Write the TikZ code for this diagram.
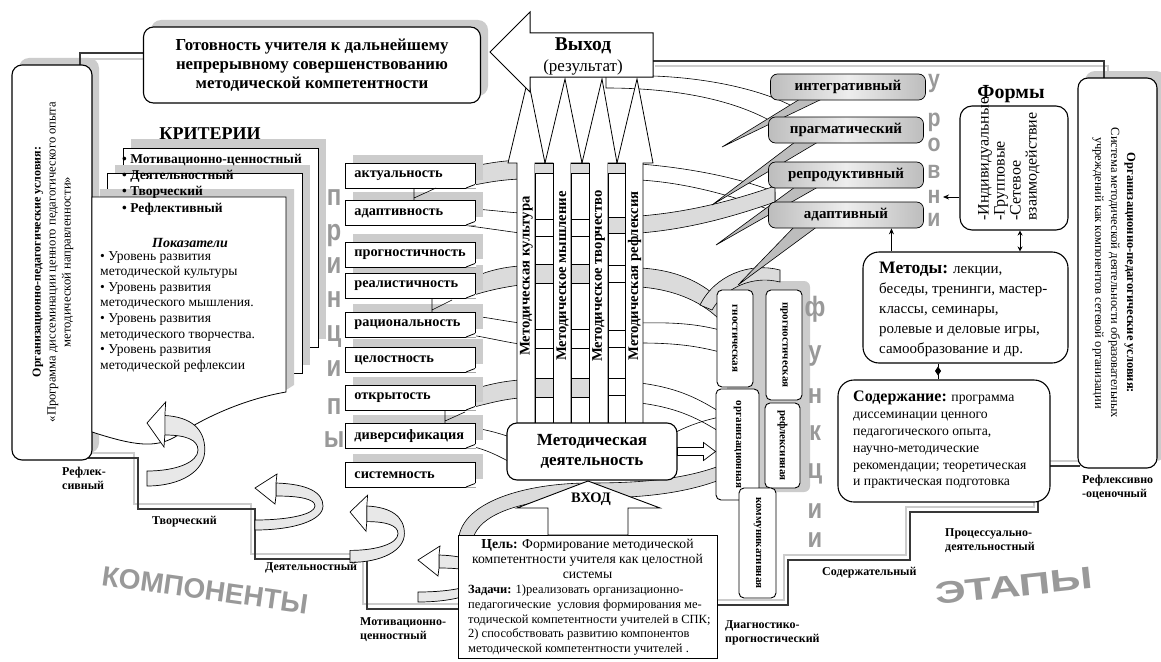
\documentclass[tikz,border=0pt]{standalone}
\usepackage{fontspec}
\setmainfont{Liberation Serif}
\newfontfamily\artf{Liberation Sans}
\usetikzlibrary{arrows.meta,calc}
\newcommand\fz[2]{\fontsize{#1}{#2}\selectfont}
\definecolor{shd}{gray}{0.80}
\definecolor{bandc}{gray}{0.86}
\definecolor{lvlc}{gray}{0.74}
\definecolor{lvll}{gray}{0.93}
\definecolor{artc}{gray}{0.60}
\definecolor{frm}{gray}{0.22}
\tikzset{
  rbox/.style={draw=black, line width=1.1pt, rounded corners=10pt, fill=white},
  prin/.style={draw, line width=0.8pt, fill=white, minimum height=25pt, text width=112pt, inner xsep=9pt, inner ysep=0pt, align=left, anchor=north west, font=\bfseries\fz{14.3}{15}},
  lvl/.style={draw, line width=0.7pt, left color=lvlc, right color=lvlc, middle color=lvll, rounded corners=7pt, minimum width=155pt, minimum height=26pt, inner sep=0pt, font=\bfseries\fz{15}{16}},
  func/.style={draw, line width=0.9pt, fill=white, rounded corners=5pt, inner sep=0pt, rotate=-90, font=\bfseries\fz{11}{12}},
  art/.style={text=artc, inner sep=0pt, anchor=base},
  artp/.style={art, font=\artf\bfseries\fz{30}{30}},
  artu/.style={art, font=\artf\bfseries\fz{25}{25}},
  artf/.style={art, font=\artf\bfseries\fz{28}{28}},
  stage/.style={font=\bfseries\fz{12}{14}, align=left, inner sep=0pt},
  frameline/.style={draw=frm, line width=1.6pt},
  frameshd/.style={draw=shd, line width=2.2pt},
  bandg/.style={draw, line width=0.6pt, fill=bandc},
  bandw/.style={draw, line width=0.6pt, fill=white},
  thinline/.style={draw, line width=0.6pt},
  colarrow/.style={draw, line width=0.8pt, fill=white},
  coltext/.style={rotate=90, inner sep=0pt, font=\bfseries\fz{14.7}{15}},
  spike/.style={draw, line width=0.6pt, fill=lvlc},
  uturn/.pic={
    \draw[line width=0.7pt, fill=gray!18] (21,-5) .. controls (52,-4) and (68,4) .. (68,18) .. controls (68,32) and (40,42) .. (0,42) -- (0,32) .. controls (35,32) and (60,26) .. (60,18) .. controls (60,11) and (45,8) .. (21,8) -- cycle;
    \draw[line width=0.7pt, fill=white] (0,0) -- (22,-14) -- (21,-5) -- (21,8) -- (20,16) -- cycle;
  }
}
\begin{document}
\begin{tikzpicture}[x=1pt,y=-1pt]
\useasboundingbox (0,0) rectangle (1161,661);
\fill[white] (0,0) rectangle (1161,661);

% ---------- shadows
\fill[shd, rounded corners=10pt] (151,20) rectangle (488,96);
\fill[shd, rounded corners=10pt] (19,58) rectangle (99,453);
\fill[shd, rounded corners=10pt] (1085,71) rectangle (1166,461);
\fill[shd, rounded corners=6pt] (727,281) rectangle (810,492);

% ---------- frame lines
\draw[frameshd] (86,66) -- (86,59) -- (143,59);
\draw[frameline] (80,66) -- (80,53) -- (143,53);
\draw[frameshd] (655,66) -- (1108,66) -- (1108,78);
\draw[frameline] (653,61) -- (1104,61) -- (1104,78);
\draw[frameshd] (88,453) -- (134,453) -- (134,504) -- (251,504) -- (251,554) -- (363,554) -- (363,604) -- (458,604);
\draw[frameline] (88,458) -- (138,458) -- (138,509) -- (255,509) -- (255,559) -- (367,559) -- (367,609) -- (458,609);
\draw[frameshd] (717,600) -- (784,600) -- (784,555) -- (906,555) -- (906,507) -- (1034,507) -- (1034,461) -- (1080,461);
\draw[frameline] (717,605) -- (788,605) -- (788,560) -- (910,560) -- (910,512) -- (1038,512) -- (1038,466) -- (1080,466);

% ---------- ribbons and bands
\draw[bandg] (459,548) .. controls (452,505) and (520,483) .. (590,483) .. controls (650,483) and (700,478) .. (742,456) -- (742,470) .. controls (700,492) and (650,498) .. (590,498) .. controls (530,498) and (470,512) .. (472,548) -- cycle;
\draw[thinline] (653,76) .. controls (710,78) and (760,90) .. (790,105);
\draw[thinline] (606,77) -- (606,88) .. controls (690,88) and (750,105) .. (785,130);
\draw[bandg] (474,166) .. controls (490,163) and (500,161) .. (520,160) -- (520,179) .. controls (500,180) and (490,182) .. (474,185) -- cycle;
\draw[thinline] (474,209) .. controls (490,210) and (505,212) .. (520,213);
\draw[thinline] (462,225) .. controls (485,228) and (505,231) .. (520,233);
\draw[bandg] (474,277) .. controls (490,270) and (505,267) .. (520,266) -- (520,285) .. controls (505,287) and (490,290) .. (474,295) -- cycle;
\draw[thinline] (474,316) .. controls (490,318) and (505,321) .. (520,323);
\draw[thinline] (465,334) .. controls (490,338) and (505,342) .. (520,344);
\draw[bandg] (474,389) .. controls (490,384) and (505,381) .. (520,380) -- (520,398) .. controls (505,399) and (490,403) .. (474,407) -- cycle;
\draw[thinline] (474,428) .. controls (488,430) and (498,433) .. (510,437);
\draw[thinline] (470,446) .. controls (488,450) and (498,456) .. (510,462);
\draw[bandw] (640,164) .. controls (690,168) and (740,178) .. (775,192) -- (775,212) .. controls (740,198) and (690,183) .. (640,180) -- cycle;
\draw[bandg] (640,216) .. controls (690,212) and (735,200) .. (775,186) -- (775,202) .. controls (735,216) and (690,229) .. (640,233) -- cycle;
\draw[bandg] (640,268) .. controls (680,270) and (705,285) .. (720,300) -- (720,320) .. controls (705,305) and (680,290) .. (640,287) -- cycle;
\draw[thinline] (640,323) .. controls (680,322) and (700,325) .. (720,330);
\draw[thinline] (640,343) .. controls (680,343) and (700,347) .. (720,352);
\draw[thinline] (640,383) .. controls (680,388) and (700,400) .. (720,412);
\draw[thinline] (640,403) .. controls (680,408) and (700,420) .. (720,432);
\draw[thinline] (676,432) .. controls (690,425) and (705,420) .. (720,417);
\draw[bandg] (700,305) .. controls (715,275) and (750,262) .. (780,270) -- (780,282) .. controls (752,275) and (725,288) .. (712,310) -- cycle;

% ---------- columns
\draw[colarrow] (517,424) -- (517,163) -- (508,163) -- (528,79) -- (545,163) -- (535,163) -- (535,424) -- cycle;
\draw[colarrow] (553,424) -- (553,163) -- (545,163) -- (565,79) -- (582,163) -- (571,163) -- (571,424) -- cycle;
\draw[colarrow] (589,424) -- (589,163) -- (582,163) -- (602,79) -- (617,163) -- (608,163) -- (608,424) -- cycle;
\draw[colarrow] (625,424) -- (625,163) -- (617,163) -- (637,79) -- (653,163) -- (643,163) -- (643,424) -- cycle;
\foreach \xa/\xb in {535/553, 571/589, 608/625} {
  \draw[line width=0.8pt, fill=white] (\xa,163) rectangle (\xb,424);
  \fill[bandc] (\xa,163.5) rectangle (\xb,173);
  \draw[line width=0.6pt] (\xa,173) -- (\xb,173);
}
\foreach \xa/\xb in {535/553, 571/589} {
  \draw[line width=0.6pt] (\xa,219) -- (\xb,219) (\xa,236) -- (\xb,236) (\xa,329) -- (\xb,329) (\xa,348) -- (\xb,348);
  \draw[line width=0.6pt, fill=bandc] (\xa,264) rectangle (\xb,283);
  \draw[line width=0.6pt, fill=bandc] (\xa,378) rectangle (\xb,397);
}
\draw[line width=0.6pt, fill=bandc] (608,217) rectangle (625,233);
\draw[line width=0.6pt] (608,265) -- (625,265) (608,282) -- (625,282) (608,330) -- (625,330) (608,347) -- (625,347) (608,378) -- (625,378) (608,395) -- (625,395);
\node[coltext] (c1) at (526.5,276) {Методическая культура};
\node[coltext] (c2) at (562.5,276) {Методическое мышление};
\node[coltext] (c3) at (598.5,276) {Методическое творчество};
\node[coltext] (c4) at (634.5,276) {Методическая рефлексия};

% ---------- output arrow
\draw[line width=1pt, fill=white] (490,52) -- (530,12) -- (530,33) -- (653,33) -- (653,77) -- (530,77) -- (530,92) -- cycle;
\node[font=\bfseries\fz{19.5}{22}, inner sep=0pt] (vyh) at (583,46) {Выход};
\node[font=\fz{17}{19}, inner sep=0pt] (vyhr) at (583,67) {(результат)};

% ---------- top-left result box
\node[rbox, minimum width=337pt, minimum height=76pt, align=center, font=\bfseries\fz{16.8}{19}] (got) at (312,65) {Готовность учителя к дальнейшему\\непрерывному совершенствованию\\методической компетентности};

% ---------- left and right condition boxes
\node[rbox, minimum width=80pt, minimum height=395pt] (lbox) at (52,262.5) {};
\node[rotate=90, align=center, font=\fz{12.6}{15}] (lboxt) at (53,262) {{\bfseries\fz{12}{15}Организационно-педагогические условия:}\\«Программа диссеминации ценного педагогического опыта\\методической направленности»};
\node[rbox, minimum width=79pt, minimum height=390pt] (rbx) at (1117.5,273) {};
\node[rotate=-90, align=center, font=\fz{12.5}{16}] (rbxt) at (1114,273) {\textbf{Организационно-педагогические условия:}\\Система методической деятельности образовательных\\учреждений как компонентов сетевой организации};

% ---------- criteria pages
\node[font=\bfseries\fz{18}{20}, inner sep=0pt] (krit) at (210,134) {КРИТЕРИИ};
\fill[shd] (131,139) rectangle (326,339);
\draw[line width=0.8pt, fill=white] (123,148) rectangle (318,347);
\fill[shd] (115,165) rectangle (310,365);
\draw[line width=0.8pt, fill=white] (107,173) rectangle (302,373);
\fill[shd] (100,189) -- (294,189) -- (294,385) -- (286,390) -- (92,390) -- cycle;
\draw[line width=0.8pt, fill=white] (92,197) -- (286,197) -- (286,392) .. controls (240,400) and (200,420) .. (175,437) .. controls (155,448) and (135,446) .. (92,432) -- cycle;
\node[anchor=north west, align=left, inner sep=0pt, font=\bfseries\fz{13.5}{16.2}] (kritl) at (122,154) {• Мотивационно-ценностный\\• Деятельностный\\• Творческий\\• Рефлективный};
\node[font=\bfseries\itshape\fz{14}{15}, inner sep=0pt] (pokaz) at (190,243) {Показатели};
\node[anchor=north west, align=left, inner sep=0pt, font=\fz{13.6}{15.6}] (pokl) at (100,251) {• Уровень развития\\методической культуры\\• Уровень развития\\методического мышления.\\• Уровень развития\\методического творчества.\\• Уровень развития\\методической рефлексии};

% ---------- principles
\foreach \yy in {163,200,242,273,312,347,385,423,462} { \fill[shd] (353,\yy-8) rectangle (483,\yy+17); }
\node[prin] (p1) at (345,163) {актуальность};
\node[prin] (p2) at (345,200) {адаптивность};
\node[prin] (p3) at (345,242) {прогностичность};
\node[prin] (p4) at (345,273) {реалистичность};
\node[prin] (p5) at (345,312) {рациональность};
\node[prin] (p6) at (345,347) {целостность};
\node[prin] (p7) at (345,385) {открытость};
\node[prin] (p8) at (345,423) {диверсификация};
\node[prin] (p9) at (345,462) {системность};
\foreach \yy in {163,200,242,273,312,347,385,423,462} {
  \fill[white] (466,\yy+25.6) -- (476,\yy+25.6) -- (476,\yy+21) -- cycle;
  \draw[line width=0.8pt] (466,\yy+25) -- (475,\yy+21.5);
}
\draw[thinline] (414,188) -- (414,200) (414,198) -- (436,188);
\draw[thinline] (432,298) -- (432,312) (432,310) -- (452,300);
\draw[thinline] (445,410) -- (445,423) (445,421) -- (465,412);

% ---------- levels
\draw[spike] (800,99) -- (722,147) -- (822,99) -- cycle;
\draw[spike] (795,142) -- (712,205) -- (818,142) -- cycle;
\draw[spike] (795,187) -- (716,245) -- (818,187) -- cycle;
\draw[spike] (795,226) -- (738,285) -- (818,226) -- cycle;
\node[lvl] (l1) at (848,87) {интегративный};
\node[lvl] (l2) at (846,130) {прагматический};
\node[lvl] (l3) at (846,175) {репродуктивный};
\node[lvl] (l4) at (846,215) {адаптивный};

% ---------- functions
\node[func, minimum width=97pt, minimum height=36pt] (gn) at (735,338.5) {гностическая};
\node[func, minimum width=110pt, minimum height=36pt] (pg) at (784,345) {прогностическая};
\node[func, minimum width=111pt, minimum height=43pt] (og) at (737.5,444.5) {организационная};
\node[func, minimum width=85pt, minimum height=35pt] (rf) at (782.5,445.5) {рефлексивная};
\node[func, minimum width=110pt, minimum height=37pt] (km) at (757.5,543) {коммуникативная};

% ---------- method activity, input
\pic at (418,560) {uturn};
\node[draw, line width=1pt, fill=white, minimum width=259pt, minimum height=123pt, anchor=north west] (cel) at (458,535) {};
\node[anchor=north, align=center, inner sep=0pt, font=\fz{13.7}{14.8}] (celt) at (587.5,539) {\textbf{Цель:} Формирование методической\\компетентности учителя как целостной\\системы};
\node[anchor=north west, align=left, inner sep=0pt, font=\fz{12.5}{14.6}] (celz) at (468,585) {\textbf{Задачи:} 1)реализовать организационно-\\педагогические \ условия формирования ме-\\тодической компетентности учителей в СПК;\\2) способствовать развитию компонентов\\методической компетентности учителей .};
\node[rbox, minimum width=170pt, minimum height=57pt, align=center, font=\bfseries\fz{17}{20}] (md) at (592,451.5) {Методическая\\деятельность};
\draw[line width=0.9pt, fill=white] (588,481) -- (660,508) -- (628,508) -- (628,535) -- (548,535) -- (548,508) -- (517,508) -- cycle;
\node[font=\bfseries\fz{14.5}{15}, inner sep=0pt] (vhod) at (591,499) {ВХОД};
\path (md.east) coordinate (ma) (og.south |- md.east) coordinate (mb);
\draw[line width=0.7pt, fill=white] ($(ma)+(0,-4)$) -- ($(mb)+(-12,-4)$) -- ($(mb)+(-12,-9)$) -- (mb) -- ($(mb)+(-12,9)$) -- ($(mb)+(-12,4)$) -- ($(ma)+(0,4)$) -- cycle;

% ---------- U-turn arrows
\path (147,423) pic[xscale=0.85, yscale=1.5] {uturn};
\path (255,488) pic {uturn};
\path (350,512) pic[xscale=0.8, yscale=1.2] {uturn};

% ---------- forms, methods, content
\node[font=\bfseries\fz{20}{22}, inner sep=0pt] (formst) at (1011,94) {Формы};
\node[rbox, rounded corners=12pt, minimum width=108pt, minimum height=124pt] (forms) at (1014,168) {};
\node[rotate=90, anchor=west, align=left, inner sep=0pt, font=\fz{16}{16}] (formsx) at (1009,221) {-Индивидуальные\\-Групповые\\-Сетевое\\взаимодействие};
\node[rbox, rounded corners=16pt, minimum width=205pt, minimum height=111pt] (meth) at (965.5,307.5) {};
\node[anchor=north west, align=left, inner sep=0pt, font=\fz{15}{20}] (metht) at (879,262) {{\bfseries\fz{17.5}{20}Методы:} лекции,\\беседы, тренинги, мастер-\\классы, семинары,\\ролевые и деловые игры,\\самообразование и др.};
\node[rbox, rounded corners=16pt, minimum width=212pt, minimum height=122pt] (cont) at (944,441) {};
\node[anchor=north west, align=left, inner sep=0pt, font=\fz{13.7}{16.8}] (contt) at (853,391) {{\bfseries\fz{16}{17}Содержание:} программа\\диссеминации ценного\\педагогического опыта,\\научно-методические\\рекомендации; теоретическая\\и практическая подготовка};

% connectors
\draw[line width=0.8pt, -{Stealth[length=6pt,width=5pt]}] ([xshift=29pt]meth.north west) -- ([xshift=29pt]meth.north west |- l4.south);
\draw[line width=0.8pt, {Stealth[length=5pt,width=5pt]}-{Stealth[length=5pt,width=5pt]}] ([xshift=6pt]forms.south) -- ([xshift=6pt]forms.south |- meth.north);
\path ([xshift=-27.5pt]meth.south) coordinate (da) ([xshift=-27.5pt]meth.south |- cont.north) coordinate (db);
\draw[line width=0.8pt, -{Diamond[length=9pt,width=6pt]}] (da) -- ($(da)!0.75!(db)$);
\draw[line width=0.8pt] ($(da)!0.6!(db)$) -- (db);

% ---------- big art letters
\node[artp] (ap1) at (334,205) {\scalebox{0.8}[1]{п}};
\node[artp] (ap2) at (334,240) {\scalebox{0.8}[1]{р}};
\node[artp] (ap3) at (334,273) {\scalebox{0.8}[1]{и}};
\node[artp] (ap4) at (334,307) {\scalebox{0.8}[1]{н}};
\node[artp] (ap5) at (334,341) {\scalebox{0.8}[1]{ц}};
\node[artp] (ap6) at (334,376) {\scalebox{0.8}[1]{и}};
\node[artp] (ap7) at (334,414) {\scalebox{0.8}[1]{п}};
\node[artp] (ap8) at (334,447) {\scalebox{0.8}[1]{ы}};
\node[artu] (au1) at (934,88) {\scalebox{0.85}[1]{у}};
\node[artu] (au2) at (934,126) {\scalebox{0.85}[1]{р}};
\node[artu] (au3) at (934,151) {\scalebox{0.85}[1]{о}};
\node[artu] (au4) at (934,178) {\scalebox{0.85}[1]{в}};
\node[artu] (au5) at (934,203) {\scalebox{0.85}[1]{н}};
\node[artu] (au6) at (934,226) {\scalebox{0.85}[1]{и}};
\node[artf] (af1) at (815,316) {\scalebox{0.85}[1]{ф}};
\node[artf] (af2) at (815,360) {\scalebox{0.85}[1]{у}};
\node[artf] (af3) at (815,403) {\scalebox{0.85}[1]{н}};
\node[artf] (af4) at (815,440) {\scalebox{0.85}[1]{к}};
\node[artf] (af5) at (815,478) {\scalebox{0.85}[1]{ц}};
\node[artf] (af6) at (815,518) {\scalebox{0.85}[1]{и}};
\node[artf] (af7) at (815,547) {\scalebox{0.85}[1]{и}};
\draw[line width=0.8pt, -{Stealth[length=6pt,width=5pt]}] (forms.west |- 0,197) -- (943,197);
\node[text=artc, font=\artf\bfseries\fz{28}{28}, rotate=-8, inner sep=0pt] (komp) at (205,590) {КОМПОНЕНТЫ};
\node[text=artc, font=\artf\bfseries\fz{31}{31}, rotate=6, inner sep=0pt] (etap) at (1014,586) {\scalebox{1.4}[1]{ЭТАПЫ}};

% ---------- stage labels
\node[stage, anchor=north west] (s1) at (62,467) {Рефлек-\\сивный};
\node[stage, anchor=west] (s2) at (152,522) {Творческий};
\node[stage, anchor=west] (s3) at (265,568) {Деятельностный};
\node[stage, anchor=north west] (s4) at (360,617) {Мотивационно-\\ценностный};
\node[stage, anchor=north west] (s5) at (725,620) {Диагностико-\\прогностический};
\node[stage, anchor=west] (s6) at (822,573) {Содержательный};
\node[stage, anchor=north west] (s7) at (945,528) {Процессуально-\\деятельностный};
\node[stage, anchor=north west] (s8) at (1082,475) {Рефлексивно\\-оценочный};
\end{tikzpicture}
\end{document}
